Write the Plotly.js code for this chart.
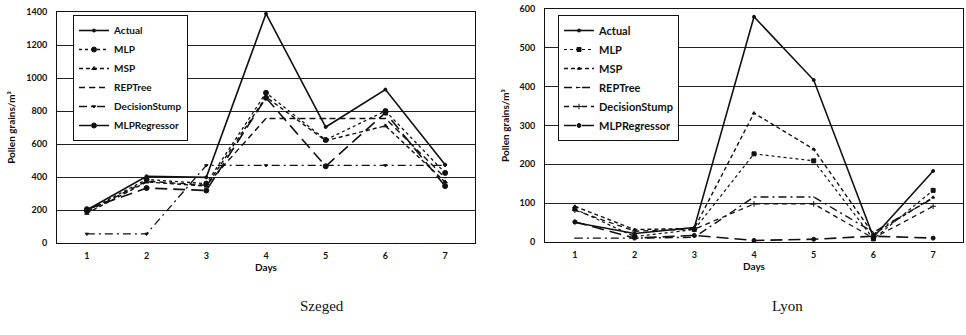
<!DOCTYPE html>
<html>
<head>
<meta charset="utf-8">
<script src="https://cdn.plot.ly/plotly-3.0.1.min.js"></script>
<style>html,body{margin:0;padding:0;background:#fff;}#chart{width:966px;height:335px;}</style>
</head>
<body>
<div id="chart"></div>
<script>
// ---- data ----
const days = [1, 2, 3, 4, 5, 6, 7];
const seriesNames = ["Actual", "MLP", "MSP", "REPTree", "DecisionStump", "MLPRegressor"];

// Szeged
const szegedActual = [200, 405, 398, 1390, 703, 930, 475];
const szegedMLP = [195, 385, 360, 910, 625, 800, 425];
const szegedMSP = [180, 370, 345, 885, 620, 710, 370];
const szegedREPTree = [190, 375, 350, 755, 755, 755, 395];
const szegedDecisionStump = [55, 55, 470, 470, 470, 470, 470];
const szegedMLPRegressor = [205, 333, 318, 880, 465, 790, 345];

// Lyon
const lyonActual = [50, 22, 37, 580, 417, 13, 183];
const lyonMLP = [85, 14, 32, 227, 209, 8, 133];
const lyonMSP = [92, 32, 35, 332, 239, 20, 115];
const lyonREPTree = [10, 10, 12, 116, 116, 25, 113];
const lyonDecisionStump = [82, 28, 33, 98, 98, 10, 92];
const lyonMLPRegressor = [52, 10, 17, 4, 7, 15, 10];

const yTicksLeft = [0, 200, 400, 600, 800, 1000, 1200, 1400];
const yTicksRight = [0, 100, 200, 300, 400, 500, 600];
const xTickLabels = ["1", "2", "3", "4", "5", "6", "7"];
const cityLabels = ["Szeged", "Lyon"];

// ---- styles ----
const leftStyles = [
  {dash: "solid", width: 1.6, symbol: "circle", size: 3},
  {dash: "dot", width: 1.3, symbol: "circle", size: 5},
  {dash: "4px,3px", width: 1.4, symbol: "triangle-up", size: 4},
  {dash: "6px,4px", width: 1.4, symbol: "line-ew", size: 1},
  {dash: "8px,4px,2px,4px", width: 1.3, symbol: "triangle-down", size: 3},
  {dash: "12px,6px", width: 1.6, symbol: "circle", size: 5}
];
const rightStyles = [
  {dash: "solid", width: 1.6, symbol: "circle", size: 3},
  {dash: "dot", width: 1.2, symbol: "square", size: 4},
  {dash: "4px,3px", width: 1.4, symbol: "triangle-up", size: 3},
  {dash: "8px,4px,2px,4px", width: 1.4, symbol: "line-ew", size: 1},
  {dash: "5px,4px", width: 1.3, symbol: "cross-thin-open", size: 4},
  {dash: "12px,6px", width: 1.6, symbol: "circle", size: 4}
];

const leftData = [szegedActual, szegedMLP, szegedMSP, szegedREPTree, szegedDecisionStump, szegedMLPRegressor];
const rightData = [lyonActual, lyonMLP, lyonMSP, lyonREPTree, lyonDecisionStump, lyonMLPRegressor];

const traces = [];
seriesNames.forEach((n, i) => {
  const s = leftStyles[i];
  traces.push({
    x: days, y: leftData[i], name: n, type: "scatter", mode: "lines+markers",
    xaxis: "x", yaxis: "y", legend: "legend",
    line: {color: "#111", width: s.width, dash: s.dash},
    marker: {color: "#111", symbol: s.symbol, size: s.size, line: {color: "#111", width: 1}}
  });
});
seriesNames.forEach((n, i) => {
  const s = rightStyles[i];
  traces.push({
    x: days, y: rightData[i], name: n, type: "scatter", mode: "lines+markers",
    xaxis: "x2", yaxis: "y2", legend: "legend2",
    line: {color: "#111", width: s.width, dash: s.dash},
    marker: {color: "#111", symbol: s.symbol, size: s.size, line: {color: "#111", width: 1}}
  });
});

const tickFont = {family: "Lato, 'Open Sans', sans-serif", size: 9, color: "#111", weight: "bold"};
const titleFont = {family: "Lato, 'Open Sans', sans-serif", size: 10, color: "#111", weight: "bold"};

function xAxis(domain, anchor) {
  return {
    domain: domain, anchor: anchor, range: [0.5, 7.5],
    tickvals: days, ticktext: xTickLabels, tickfont: tickFont,
    showgrid: false, zeroline: false, showline: true, mirror: true,
    linecolor: "#111", linewidth: 1, ticks: "", ticklen: 0, ticklabelstandoff: 4,
    title: {text: "Days", font: titleFont, standoff: 4}
  };
}
function yAxis(domain, anchor, range, ticks) {
  return {
    domain: domain, anchor: anchor, range: range,
    tickvals: ticks, tickfont: tickFont,
    showgrid: true, gridcolor: "#222", gridwidth: 1,
    zeroline: false, showline: true, mirror: true, linecolor: "#111", linewidth: 1,
    ticks: "", ticklabelstandoff: 7,
    title: {text: "Pollen grains/m³", font: titleFont, standoff: 8}
  };
}

const legendFontL = {family: "Lato, 'Open Sans', sans-serif", size: 10, color: "#111", weight: "bold"};
const legendFontR = {family: "Lato, 'Open Sans', sans-serif", size: 11, color: "#111", weight: "bold"};

const layout = {
  width: 966, height: 335,
  margin: {l: 0, r: 0, t: 0, b: 0},
  paper_bgcolor: "#fff", plot_bgcolor: "#fff",
  showlegend: true,
  xaxis: xAxis([57/966, 475/966], "y"),
  yaxis: yAxis([1 - 243/335, 1 - 12/335], "x", [0, 1400], yTicksLeft),
  xaxis2: xAxis([545/966, 963/966], "y2"),
  yaxis2: yAxis([1 - 242/335, 1 - 9/335], "x2", [0, 600], yTicksRight),
  legend: {
    x: 73/966, y: 1 - 15/335, xanchor: "left", yanchor: "top",
    bgcolor: "#fff", bordercolor: "#111", borderwidth: 1,
    font: legendFontL, itemwidth: 30, tracegroupgap: 0
  },
  legend2: {
    x: 558/966, y: 1 - 15/335, xanchor: "left", yanchor: "top",
    bgcolor: "#fff", bordercolor: "#111", borderwidth: 1,
    font: legendFontR, itemwidth: 30, tracegroupgap: 0
  },
  annotations: [
    {text: cityLabels[0], x: 322/966, y: 1 - 316/335, xref: "paper", yref: "paper",
     showarrow: false, font: {family: "'Liberation Serif', 'DejaVu Serif', serif", size: 15, color: "#111"}},
    {text: cityLabels[1], x: 805/966, y: 1 - 316/335, xref: "paper", yref: "paper",
     showarrow: false, font: {family: "'Liberation Serif', 'DejaVu Serif', serif", size: 15, color: "#111"}}
  ]
};

Plotly.newPlot("chart", traces, layout, {displayModeBar: false, staticPlot: true});
</script>
</body>
</html>
